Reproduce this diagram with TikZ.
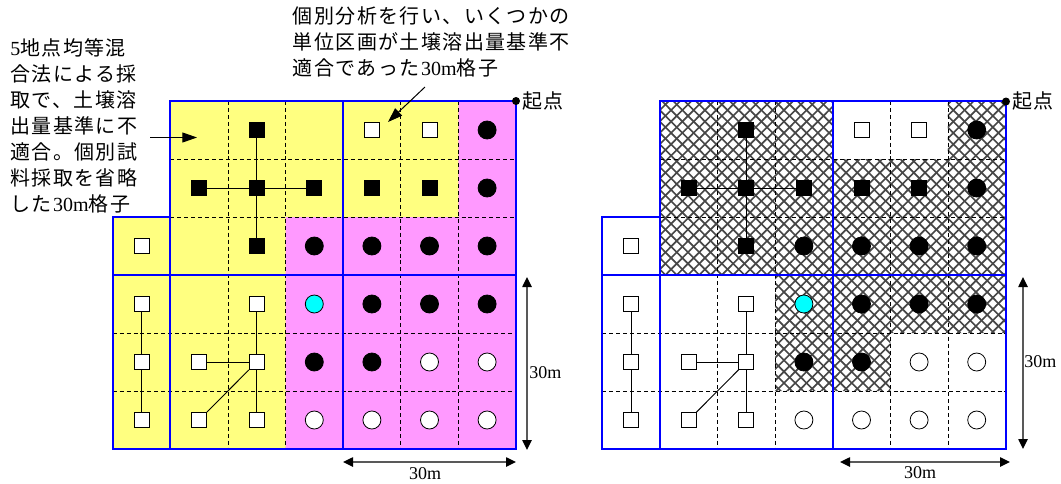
\documentclass[tikz,border=0pt]{standalone}
\usepackage{fontspec}
\setmainfont{Liberation Serif}
\newfontfamily\jpfont{Noto Sans CJK JP}[LetterSpace=7]
\usetikzlibrary{arrows.meta}
\definecolor{ylw}{RGB}{255,255,128}
\definecolor{mag}{RGB}{255,153,255}
\definecolor{cyn}{RGB}{0,255,255}
\tikzset{
 mk/.style={inner sep=0pt, draw=black, line width=0.6pt},
 bsq/.style={mk, rectangle, fill=black, minimum size=11.25pt},
 wsq/.style={mk, rectangle, fill=white, minimum size=11.25pt},
 bci/.style={mk, circle, fill=black, minimum size=13.5pt},
 wci/.style={mk, circle, fill=white, minimum size=13.5pt},
 cci/.style={mk, circle, fill=cyn, minimum size=13.5pt},
 dashln/.style={draw=black, line width=0.6pt, dash pattern=on 3pt off 2.2pt},
 blueln/.style={draw=blue, line width=1.5pt},
 hatchln/.style={draw=black!72, line width=1.25pt},
 link/.style={draw=black, line width=0.7pt},
 note/.style={inner sep=0pt, align=left, font=\jpfont\fontsize{15}{19.5}\selectfont},
 dim/.style={draw=black!65, line width=1.1pt, {Triangle[length=7.5pt,width=7pt,color=black]}-{Triangle[length=7.5pt,width=7pt,color=black]}},
 callout/.style={draw=black, line width=0.75pt, -{Triangle[length=11pt,width=7.5pt]}},
 dimlbl/.style={inner sep=0pt, font=\fontsize{13.5}{16}\selectfont},
 originpt/.style={circle, fill=black, inner sep=0pt, minimum size=6pt},
 origintxt/.style={inner sep=0pt, anchor=west, font=\jpfont\fontsize{15}{16}\selectfont},
 cellunits/.style={x=43.2pt, y=-43.5pt},
}
\newcommand\gridlines{%
 \foreach \xx in {2,3,5,6} \draw[dashln] (\xx,0) -- (\xx,6);
 \foreach \yy in {1,2} \draw[dashln] (1,\yy) -- (7,\yy);
 \foreach \yy in {4,5} \draw[dashln] (0,\yy) -- (7,\yy);
 \draw[blueln] (1,0) -- (1,6) (4,0) -- (4,6) (0,3) -- (7,3);
 \draw[blueln] (0,2) -- (1,2) -- (1,0) -- (7,0) -- (7,6) -- (0,6) -- cycle;
}
\newcommand\markers[1]{%
 \foreach \mr/\mc/\mt in {0/2/bsq,0/4/wsq,0/5/wsq,0/6/bci,
   1/1/bsq,1/2/bsq,1/3/bsq,1/4/bsq,1/5/bsq,1/6/bci,
   2/0/wsq,2/2/bsq,2/3/bci,2/4/bci,2/5/bci,2/6/bci,
   3/0/wsq,3/2/wsq,3/3/cci,3/4/bci,3/5/bci,3/6/bci,
   4/0/wsq,4/1/wsq,4/2/wsq,4/3/bci,4/4/bci,4/5/wci,4/6/wci,
   5/0/wsq,5/1/wsq,5/2/wsq,5/3/wci,5/4/wci,5/5/wci,5/6/wci}
   \node[style=\mt] (#1-\mr-\mc) at (\mc+0.5,\mr+0.5) {};
 \draw[link] (#1-0-2) -- (#1-1-2) -- (#1-2-2);
 \draw[link] (#1-1-1) -- (#1-1-2) -- (#1-1-3);
 \draw[link] (#1-3-0) -- (#1-4-0) -- (#1-5-0);
 \draw[link] (#1-3-2) -- (#1-4-2) -- (#1-5-2);
 \draw[link] (#1-4-1) -- (#1-4-2);
 \draw[link] (#1-5-1) -- (#1-4-2);
}
\begin{document}
\begin{tikzpicture}[x=0.75pt, y=-0.75pt]
\useasboundingbox (0,0) rectangle (1061,483);
% left grid
\begin{scope}[shift={(112.7,101)}, cellunits]
 \fill[ylw] (0,2) -- (1,2) -- (1,0) -- (7,0) -- (7,6) -- (0,6) -- cycle;
 \fill[mag] (6,0) rectangle (7,2) (3,2) rectangle (7,6);
 \gridlines
 \markers{L}
\end{scope}
% right grid
\begin{scope}[shift={(602.3,101)}, cellunits]
 \begin{scope}
  \clip (1,0) rectangle (4,1) (6,0) rectangle (7,1) (1,1) rectangle (7,3) (3,3) rectangle (7,4) (3,4) rectangle (5,5);
  \foreach \k in {-7,-6.804,...,7.1} {
   \draw[hatchln] (\k,6) -- ++(6,-6);
   \draw[hatchln] (\k,0) -- ++(6,6);
  }
 \end{scope}
 \gridlines
 \markers{R}
\end{scope}
% annotations
\node[note, anchor=north west] (noteA) at (10,38) {\textrm{5}地点均等混\\合法による採\\取で、土壌溶\\出量基準に不\\適合。個別試\\料採取を省略\\した\textrm{30m}格子};
\node[note, anchor=north west] (noteB) at (292.7,6) {個別分析を行い、いくつかの\\単位区画が土壌溶出量基準不\\適合であった\textrm{30m}格子};
\coordinate (cA1) at (150,137.5); \coordinate (cA2) at (197,137.5);
\draw[callout] (cA1) -- (cA2);
\coordinate (cB1) at (425,87); \coordinate (cB2) at (388,122);
\draw[callout] (cB1) -- (cB2);
% origins
\node[originpt] (oL) at (516,101) {};
\node[origintxt] (oLt) at (522,101) {起点};
\node[originpt] (oR) at (1006,101.5) {};
\node[origintxt] (oRt) at (1012,101) {起点};
% dimensions
\coordinate (dLva) at (527,277); \coordinate (dLvb) at (527,450);
\draw[dim] (dLva) -- (dLvb);
\node[dimlbl, anchor=west] (dLvl) at (529,373) {30m};
\coordinate (dLha) at (343,462); \coordinate (dLhb) at (516,462);
\draw[dim] (dLha) -- (dLhb);
\node[dimlbl] (dLhl) at (425,474) {30m};
\coordinate (dRva) at (1023,277); \coordinate (dRvb) at (1023,449);
\draw[dim] (dRva) -- (dRvb);
\node[dimlbl, anchor=west] (dRvl) at (1024,362) {30m};
\coordinate (dRha) at (840,462); \coordinate (dRhb) at (1010,462);
\draw[dim] (dRha) -- (dRhb);
\node[dimlbl] (dRhl) at (920,473) {30m};
\end{tikzpicture}
\end{document}
